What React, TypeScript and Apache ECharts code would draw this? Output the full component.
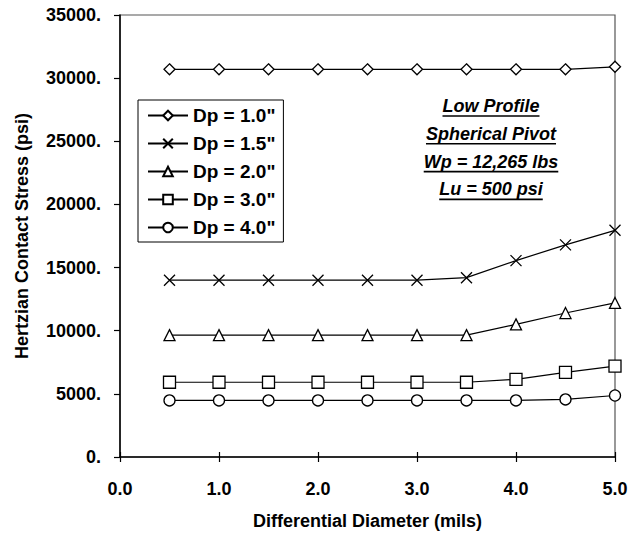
import React, { useEffect, useRef } from "react";
import * as echarts from "echarts";

const xValues = [0.5, 1.0, 1.5, 2.0, 2.5, 3.0, 3.5, 4.0, 4.5, 5.0];
const dp10 = [30700, 30700, 30700, 30700, 30700, 30700, 30700, 30700, 30700, 30900];
const dp15 = [14000, 14000, 14000, 14000, 14000, 14000, 14200, 15550, 16800, 17950];
const dp20 = [9650, 9650, 9650, 9650, 9650, 9650, 9650, 10500, 11400, 12200];
const dp30 = [5920, 5920, 5920, 5920, 5920, 5920, 5920, 6150, 6700, 7200];
const dp40 = [4480, 4480, 4480, 4480, 4480, 4480, 4480, 4480, 4560, 4870];
const seriesNames = ['Dp = 1.0"', 'Dp = 1.5"', 'Dp = 2.0"', 'Dp = 3.0"', 'Dp = 4.0"'];
const annotationLines = ["Low Profile", "Spherical Pivot", "Wp = 12,265 lbs", "Lu = 500 psi"];

const FONT = '"Liberation Sans", Arial, sans-serif';
const CROSS = "path://M0,0L10,10M10,0L0,10";

export default function App() {
  const ref = useRef<HTMLDivElement>(null);
  useEffect(() => {
    if (!ref.current) return;
    const chart = echarts.init(ref.current, undefined, { renderer: "svg" });
    const allData = [dp10, dp15, dp20, dp30, dp40];
    const symbols = ["diamond", CROSS, "triangle", "rect", "circle"];
    const sizes = [11, 11, 11, 12, 11];

    const annFont = `italic bold 18px ${FONT}`;
    const canvas = document.createElement("canvas");
    const ctx = canvas.getContext("2d")!;
    ctx.font = annFont;
    const annX = 491;
    const annY0 = 106;
    const annStep = 27.8;
    const graphics: any[] = [];
    annotationLines.forEach((t, i) => {
      const y = annY0 + i * annStep;
      const w = ctx.measureText(t).width;
      graphics.push({
        type: "text",
        x: annX,
        y,
        style: {
          text: t,
          font: annFont,
          fill: "#000",
          textAlign: "center",
          textVerticalAlign: "middle",
        },
      });
      graphics.push({
        type: "line",
        shape: { x1: annX - w / 2, y1: y + 10, x2: annX + w / 2, y2: y + 10 },
        style: { stroke: "#000", lineWidth: 1.6 },
      });
    });

    chart.setOption({
      animation: false,
      backgroundColor: "#fff",
      grid: {
        left: 120,
        right: 20,
        top: 15,
        bottom: 77,
        show: true,
        borderColor: "#555",
        borderWidth: 1.2,
      },
      legend: {
        orient: "vertical",
        left: 138,
        top: 100,
        padding: [6, 8, 5, 9],
        itemGap: 9,
        itemWidth: 40,
        itemHeight: 12,
        borderColor: "#000",
        borderWidth: 1,
        backgroundColor: "#fff",
        data: seriesNames,
        textStyle: { fontFamily: FONT, fontWeight: "bold", fontSize: 19, color: "#000" },
      },
      xAxis: [
        {
          type: "value",
          min: 0,
          max: 5,
          interval: 1,
          position: "bottom",
          name: "Differential Diameter (mils)",
          nameLocation: "middle",
          nameGap: 55,
          nameTextStyle: { fontFamily: FONT, fontWeight: "bold", fontSize: 18, color: "#000" },
          axisLine: { lineStyle: { color: "#000", width: 1.5 } },
          axisTick: { show: true, length: 5, lineStyle: { color: "#000", width: 1.2 } },
          axisLabel: {
            margin: 23,
            fontFamily: FONT,
            fontWeight: "bold",
            fontSize: 18,
            color: "#000",
            formatter: (v: number) => v.toFixed(1),
          },
          splitLine: { show: false },
        },
        {
          type: "value",
          min: 0,
          max: 5,
          interval: 1,
          position: "bottom",
          offset: 0,
          axisLine: { show: false },
          axisTick: { show: true, inside: true, length: 5, lineStyle: { color: "#000", width: 1.2 } },
          axisLabel: { show: false },
          splitLine: { show: false },
        },
      ],
      yAxis: {
        type: "value",
        min: 0,
        max: 35000,
        interval: 5000,
        name: "Hertzian Contact Stress (psi)",
        nameLocation: "middle",
        nameGap: 89,
        nameTextStyle: { fontFamily: FONT, fontWeight: "bold", fontSize: 18, color: "#000" },
        axisLine: { show: true, lineStyle: { color: "#000", width: 1.5 } },
        axisTick: { show: true, length: 6, lineStyle: { color: "#000", width: 1.2 } },
        axisLabel: {
          margin: 19,
          fontFamily: FONT,
          fontWeight: "bold",
          fontSize: 18,
          color: "#000",
          formatter: (v: number) => `${v}.`,
        },
        splitLine: { show: false },
      },
      graphic: graphics,
      series: allData.map((d, i) => ({
        name: seriesNames[i],
        type: "line",
        data: xValues.map((x, j) => [x, d[j]]),
        symbol: symbols[i],
        symbolSize: sizes[i],
        clip: false,
        lineStyle: { color: "#000", width: 1.2 },
        itemStyle: { color: "#fff", borderColor: "#000", borderWidth: 1.3 },
        emphasis: { disabled: true },
        z: 3,
      })),
    });
    return () => chart.dispose();
  }, []);
  return (
    <div
      ref={ref}
      style={{ position: "fixed", left: 0, top: 0, width: 635, height: 535, background: "#fff" }}
    />
  );
}
